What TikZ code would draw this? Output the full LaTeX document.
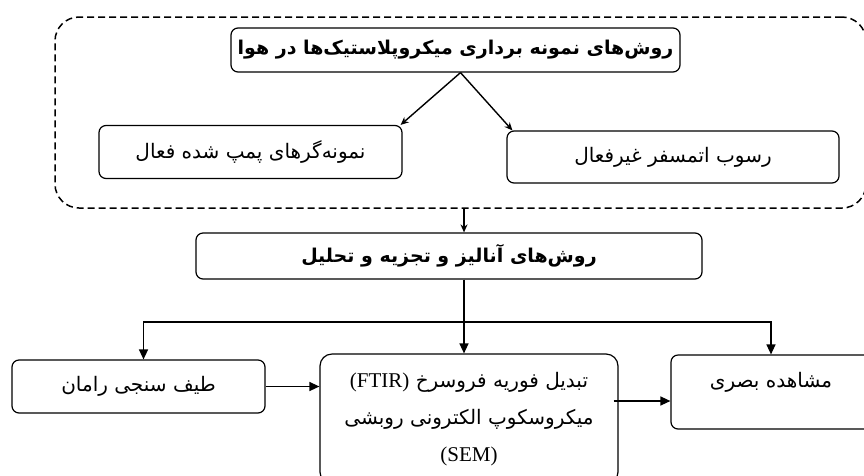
\documentclass[tikz,border=0pt]{standalone}
\usepackage{fontspec}
\setmainfont{Liberation Serif}
\newfontfamily\farsi[Script=Arabic]{DejaVu Sans}
\TeXXeTstate=1
\usetikzlibrary{arrows.meta,positioning}

\newcommand{\fa}[1]{\beginR #1\endR}
\newcommand{\la}[1]{\beginL{\rmfamily #1}\endL}

\tikzset{
  box/.style={draw, line width=1.2pt, rounded corners=7pt, inner sep=2pt,
    font=\farsi\fontsize{20}{24}\selectfont},
  headbox/.style={box, font=\farsi\bfseries\fontsize{19}{23}\selectfont},
  arr/.style={-{Stealth[length=8pt,width=7pt]}, line width=1.4pt},
  bigarr/.style={-{Triangle[length=10pt,width=9pt]}, line width=1.4pt},
}

\begin{document}
\begin{tikzpicture}[x=1pt,y=-1pt]
\useasboundingbox (0,0) rectangle (864,475);
\clip (0,0) rectangle (864,475);

% sampling group
\node[draw, dash pattern=on 7pt off 4pt, line width=1.5pt, rounded corners=24pt,
  minimum width=811pt, minimum height=191pt] (airbox) at (460.5,112.5) {};
\node[headbox, minimum width=449pt, minimum height=44pt] (sampling) at (455.5,50)
  {\fa{روش‌های نمونه برداری میکروپلاستیک‌ها در هوا}};
\node[box, minimum width=303pt, minimum height=53pt] (active) at (250.5,152)
  {\fa{نمونه‌گرهای پمپ شده فعال}};
\node[box, minimum width=332pt, minimum height=52pt] (passive) at (673,157)
  {\fa{رسوب اتمسفر  غیرفعال}};

\draw[arr] ([xshift=5pt]sampling.south) -- ([xshift=-2pt]active.north east);
\draw[arr] ([xshift=5pt]sampling.south) -- ([xshift=6pt]passive.north west);

% analysis
\coordinate (trunk) at (464,0);
\node[headbox, minimum width=506pt, minimum height=46pt] (analysis) at (449,256)
  {\fa{روش‌های آنالیز و تجزیه و تحلیل}};
\draw[arr] (airbox.south -| trunk) -- (analysis.north -| trunk);

\node[box, minimum width=253pt, minimum height=53pt] (raman) at (138.5,386.5)
  {\fa{طیف سنجی رامان}};
\node[box, rounded corners=12pt, minimum width=298pt, minimum height=130pt,
  align=center, font=\farsi\fontsize{20}{37}\selectfont] (ftir) at (469,419)
  {\fa{تبدیل فوریه فروسرخ  \la{\fontsize{21}{37}\selectfont(FTIR)}}\\
   \fa{میکروسکوپ الکترونی روبشی}\\
   \la{\fontsize{21}{37}\selectfont(SEM)}};
\node[box, minimum width=200pt, text height=27pt, text depth=37pt, inner ysep=5pt]
  (visual) at (771,392) {\fa{مشاهده بصری}};

\coordinate (split) at (464,322);
\draw[line width=1.4pt] (analysis.south -| trunk) -- (split);
\draw[bigarr] (split) -- (ftir.north -| trunk);
\draw[bigarr] (split) -| ([xshift=5pt]raman.north);
\draw[bigarr] (split) -| (visual.north);

\draw[bigarr] (raman.east) -- (raman.east -| ftir.west);
\coordinate (tip) at ([yshift=-9pt]visual.west);
\draw[bigarr] ([xshift=-5pt]ftir.east |- tip) -- (tip);
\end{tikzpicture}
\end{document}
